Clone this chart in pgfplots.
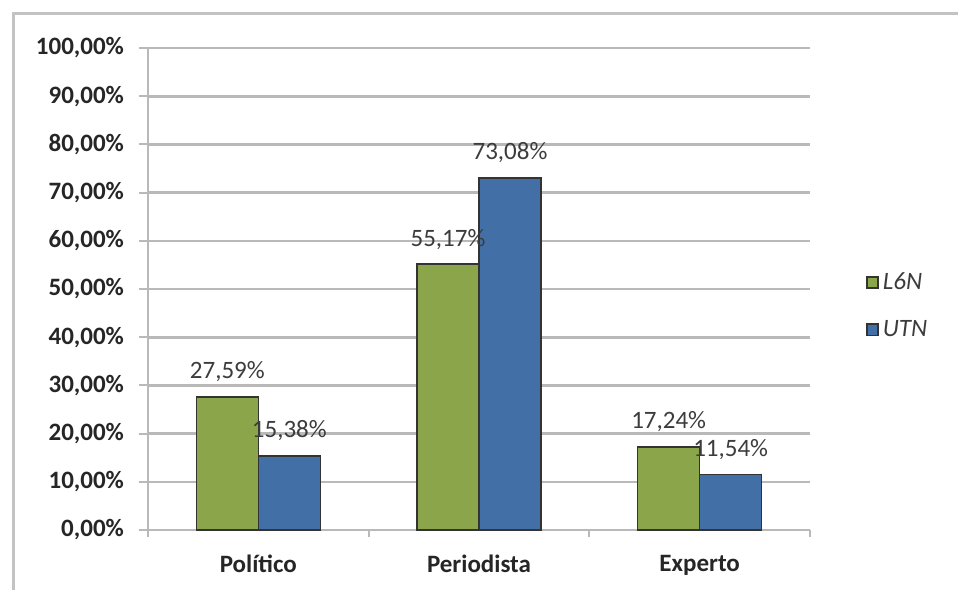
\documentclass[border=0pt]{standalone}
\usepackage{fontspec}
\setmainfont{Carlito}
\usepackage{pgfplots}
\pgfplotsset{compat=1.18}
\definecolor{barG}{RGB}{139,166,74}
\definecolor{barB}{RGB}{66,112,166}
\definecolor{gridc}{RGB}{185,185,185}
\definecolor{framec}{RGB}{195,195,195}
\definecolor{txt}{RGB}{60,60,60}
\begin{document}
\begin{tikzpicture}
\useasboundingbox (0,0) rectangle (479pt,295pt);
\fill[white] (0,0) rectangle (479pt,295pt);
\draw[framec,line width=1.5pt] (6.5pt,0) -- (6.5pt,288pt) -- (479pt,288pt);
\begin{axis}[
  at={(74pt,30pt)}, anchor=south west,
  scale only axis, width=331pt, height=241pt,
  ybar=0pt, bar width=31pt,
  xmin=-0.5, xmax=2.5, ymin=0, ymax=100,
  xtick={0,1,2},
  xticklabels={Político,Periodista,Experto},
  minor xtick={-0.5,0.5,1.5,2.5},
  major x tick style={draw=none},
  minor x tick style={gridc, line width=1pt},
  ytick={0,10,...,100},
  yticklabels={{0,00\%},{10,00\%},{20,00\%},{30,00\%},{40,00\%},{50,00\%},{60,00\%},{70,00\%},{80,00\%},{90,00\%},{100,00\%}},
  tick align=outside,
  major tick length=4.5pt, minor tick length=3.5pt,
  ytick style={gridc, line width=1pt},
  ymajorgrids, grid style={gridc, line width=1.3pt},
  axis x line*=bottom, axis y line*=left,
  axis line style={gridc, line width=1pt},
  separate axis lines,
  y axis line style={-}, x axis line style={-},
  ticklabel style={font=\bfseries\fontsize{12.5}{15}\selectfont, text=black!85},
  xticklabel style={yshift=-4.5pt},
  yticklabel style={xshift=-4pt},
  nodes near coords={\pgfmathprintnumber[fixed,fixed zerofill,precision=2,use comma,assume math mode=true]{\pgfplotspointmeta}\%},
  nodes near coords style={anchor=center, yshift=12.5pt, font=\fontsize{12.5}{15}\selectfont, text=txt},
  legend style={draw=none, fill=none, at={(1.075,0.465)}, anchor=west,
    font=\itshape\fontsize{12.5}{15}\selectfont, text=txt, row sep=10pt,
    /tikz/every even column/.append style={column sep=0pt}},
  legend cell align=left,
  legend image code/.code={\draw[#1,line width=0.8pt] (0pt,-2.8pt) rectangle (5.6pt,2.8pt);},
]
\addplot[fill=barG, draw=black!80, line width=0.8pt] coordinates {(0,27.59) (1,55.17) (2,17.24)};
\addplot[fill=barB, draw=black!80, line width=0.8pt] coordinates {(0,15.38) (1,73.08) (2,11.54)};
\legend{L6N,UTN}
\end{axis}
\end{tikzpicture}
\end{document}
